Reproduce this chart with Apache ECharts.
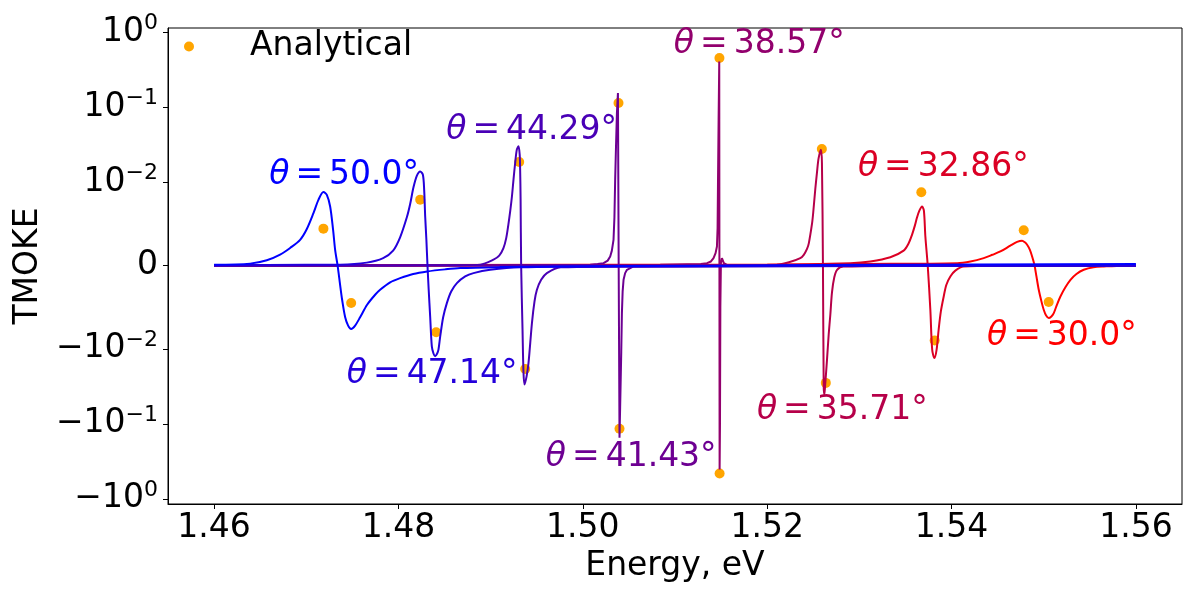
<!DOCTYPE html>
<html><head><meta charset="utf-8">
<script src="https://cdn.jsdelivr.net/npm/echarts@6/dist/echarts.min.js"></script>
<style>html,body{margin:0;padding:0;background:#fff}#c{width:1200px;height:600px}</style>
</head><body><div id="c"></div>
<script>
// ---- data ----
const xTicks = [1.46, 1.48, 1.50, 1.52, 1.54, 1.56];
const yTicks = [1, 0.1, 0.01, 0, -0.01, -0.1, -1];
const yTickBase = ['10', '10', '10', '0', '\u221210', '\u221210', '\u221210'];
const yTickExp = ['0', '\u22121', '\u22122', '', '\u22122', '\u22121', '0'];

const thetaLabels = ['50.0', '47.14', '44.29', '41.43', '38.57', '35.71', '32.86', '30.0'];
const lineColors = ['#0000ff', '#2400db', '#4900b6', '#6d0092', '#92006d', '#b60049', '#db0024', '#ff0000'];
const lineSmooth = [0.3, 0.3, 0.3, 0, 0, 0.3, 0.3, 0.3];

const curve50 = [[1.4600,0.0001],[1.46391,0.00024],[1.46572,0.00064],[1.46716,0.00132],[1.46825,0.00212],[1.46933,0.0031],[1.47006,0.0044],[1.47078,0.0063],[1.47132,0.0079],[1.47186,0.00885],[1.47223,0.0085],[1.47259,0.0071],[1.47291,0.0043],[1.47313,0.0019],[1.47340,0.0],[1.47367,-0.0023],[1.47389,-0.0041],[1.47422,-0.0062],[1.47454,-0.0072],[1.47487,-0.0076],[1.47530,-0.0072],[1.47584,-0.0062],[1.47660,-0.0047],[1.47747,-0.0035],[1.47801,-0.0029],[1.47910,-0.0020],[1.48018,-0.0015],[1.48160,-0.0010],[1.48311,-0.0007],[1.48507,-0.00045],[1.48670,-0.0003],[1.49104,-0.00018],[1.49646,-0.0001],[1.5127,0.0],[1.5300,0.0001],[1.5600,0.0002]];
const curve47 = [[1.4600,0.00005],[1.4700,0.0001],[1.47367,0.00012],[1.47657,0.00036],[1.47834,0.0009],[1.47942,0.0018],[1.48018,0.0034],[1.48091,0.0058],[1.48127,0.0074],[1.48163,0.0094],[1.48200,0.0123],[1.48236,0.0140],[1.48265,0.0126],[1.48279,0.0091],[1.48290,0.0059],[1.48303,0.0031],[1.48315,0.0],[1.48328,-0.0029],[1.48344,-0.0061],[1.48362,-0.0097],[1.48380,-0.0115],[1.48398,-0.0125],[1.48420,-0.0115],[1.48434,-0.0102],[1.48453,-0.0085],[1.48485,-0.0062],[1.48525,-0.0045],[1.48572,-0.0031],[1.48634,-0.0021],[1.48724,-0.0013],[1.48814,-0.0009],[1.48995,-0.0005],[1.49321,-0.0002],[1.5050,-0.0001],[1.5600,0.0]];
const curve44 = [[1.4600,0.0],[1.4800,0.00003],[1.48670,0.00005],[1.48887,0.00012],[1.49031,0.00072],[1.49093,0.0012],[1.49139,0.0021],[1.49169,0.0033],[1.49192,0.0049],[1.49213,0.0066],[1.49231,0.0083],[1.49248,0.0109],[1.49266,0.0181],[1.49284,0.0273],[1.49302,0.0302],[1.49315,0.0237],[1.49320,0.0150],[1.49325,0.0080],[1.49331,0.0],[1.49346,-0.0077],[1.49356,-0.0200],[1.49367,-0.0299],[1.49390,-0.0232],[1.49411,-0.0154],[1.49448,-0.0069],[1.49476,-0.0043],[1.49502,-0.0029],[1.49548,-0.0017],[1.49610,-0.0009],[1.4976,-0.0002],[1.5100,-0.0001],[1.5600,0.0]];
const curve41 = [[1.4600,0.0],[1.4900,0.00005],[1.5008,0.00012],[1.50160,0.0002],[1.50225,0.0003],[1.50270,0.0006],[1.50297,0.0011],[1.50315,0.0018],[1.50333,0.0031],[1.50343,0.0058],[1.50351,0.0109],[1.50360,0.0302],[1.50370,0.0841],[1.50381,0.1555],[1.50389,0.0],[1.50398,-0.1535],[1.50405,-0.0600],[1.50411,-0.0257],[1.50417,-0.0110],[1.50424,-0.0057],[1.50432,-0.0031],[1.50442,-0.0017],[1.50459,-0.0009],[1.50479,-0.0005],[1.50550,-0.0001],[1.5200,0.0],[1.5600,0.0]];
const curve38 = [[1.4600,0.0],[1.5000,0.00005],[1.5084,0.00012],[1.51280,0.0002],[1.51347,0.0003],[1.51390,0.0005],[1.51418,0.0009],[1.51440,0.0015],[1.51455,0.0023],[1.51462,0.0045],[1.51466,0.0095],[1.51473,0.0686],[1.51480,0.410],[1.51482,0.0],[1.51484,-0.406],[1.51488,-0.1],[1.51492,-0.005],[1.51498,0.0003],[1.51509,0.0009],[1.51530,0.0003],[1.51563,0.0001],[1.5300,0.0],[1.5600,0.0]];
const curve35 = [[1.4600,0.0],[1.5000,0.00005],[1.52106,0.00012],[1.52236,0.0004],[1.52359,0.0009],[1.52397,0.0013],[1.52432,0.0020],[1.52452,0.0027],[1.52486,0.0050],[1.52498,0.0062],[1.52522,0.0092],[1.52540,0.0135],[1.52558,0.0210],[1.52584,0.0273],[1.52594,0.0181],[1.52605,0.0],[1.52613,-0.0315],[1.52620,-0.0406],[1.52628,-0.0315],[1.52649,-0.0139],[1.52667,-0.0083],[1.52685,-0.0059],[1.52703,-0.0032],[1.52728,-0.0014],[1.52758,-0.0005],[1.52826,-0.0001],[1.5400,0.0],[1.5600,0.0]];
const curve32 = [[1.4600,0.0],[1.5000,0.00005],[1.5200,0.0001],[1.52902,0.0003],[1.53119,0.0005],[1.53336,0.0010],[1.53480,0.0018],[1.53531,0.0026],[1.53571,0.0037],[1.53602,0.0048],[1.53626,0.0058],[1.53651,0.0066],[1.53680,0.0071],[1.53700,0.0066],[1.53716,0.0035],[1.53741,0.0001],[1.53770,-0.0053],[1.53790,-0.0102],[1.53814,-0.0132],[1.53838,-0.0102],[1.53860,-0.0077],[1.53884,-0.0055],[1.53915,-0.0037],[1.53944,-0.0023],[1.53987,-0.0013],[1.54041,-0.0006],[1.54131,-0.0001],[1.5450,0.0],[1.5600,0.0]];
const curve30 = [[1.4600,0.0],[1.5000,0.0001],[1.5200,0.0001],[1.5300,0.0002],[1.54060,0.0003],[1.54205,0.0005],[1.54349,0.0009],[1.54443,0.0013],[1.54530,0.0017],[1.54638,0.0024],[1.54711,0.00285],[1.54765,0.0030],[1.54796,0.0028],[1.54820,0.0025],[1.54850,0.0019],[1.54874,0.0011],[1.54899,0.0001],[1.54921,-0.0013],[1.54946,-0.0029],[1.54973,-0.0042],[1.55000,-0.0053],[1.55026,-0.0060],[1.55054,-0.0063],[1.55083,-0.0061],[1.55109,-0.0057],[1.55143,-0.0047],[1.55181,-0.0037],[1.55235,-0.0026],[1.55290,-0.0017],[1.55355,-0.0010],[1.55434,-0.0005],[1.55539,-0.0002],[1.55651,-0.0001],[1.55865,0.0],[1.5600,0.0]];
const curves = [curve50, curve47, curve44, curve41, curve38, curve35, curve32, curve30];

const analyticalE = [1.47186,1.47487,1.48236,1.48409,1.49310,1.49375,1.50387,1.50398,1.51482,1.51484,1.52593,1.52636,1.53672,1.53817,1.54783,1.55054];
const analyticalV = [0.00444,-0.00448,0.00792,-0.0080,0.0187,-0.0185,0.1143,-0.1164,0.455,-0.459,0.0279,-0.0284,0.0088,-0.0090,0.00424,-0.00436];

// label anchors (centre of each annotation, data coords)
const labelE = [1.47411, 1.48366, 1.49445, 1.50525, 1.51914, 1.52815, 1.53911, 1.55197];
const labelV = [0.01227, -0.02198, 0.0489, -0.281, 0.685, -0.0664, 0.0157, -0.00852];

// ---- symlog scale (linthresh 0.01, linscale 1, base 10) ----
const LT = 0.01, LS = 1 / (1 - 1 / 10);
function symlog(v) {
  const a = Math.abs(v);
  if (a <= LT) return v / LT * LS;
  return Math.sign(v) * (LS + Math.log10(a / LT));
}

const FF = 'DejaVu Sans';
const yTickPos = yTicks.map(symlog);

const series = [];
series.push({
  name: 'Analytical', type: 'scatter',
  data: analyticalE.map((e, i) => [e, symlog(analyticalV[i])]),
  symbolSize: 10, itemStyle: { color: '#FFA500', opacity: 1 }, z: 2, silent: true
});
for (let k = curves.length - 1; k >= 0; k--) {
  series.push({
    type: 'line', data: curves[k].map(p => [p[0], symlog(p[1])]),
    showSymbol: false, symbol: 'none', smooth: lineSmooth[k],
    lineStyle: { width: 2, color: lineColors[k] }, itemStyle: { color: lineColors[k] },
    z: 3, silent: true
  });
}
series.push({
  type: 'scatter', z: 5, silent: true, symbolSize: 1,
  itemStyle: { color: 'rgba(0,0,0,0)', opacity: 1 },
  label: {
    show: true, position: 'inside', fontFamily: FF, fontSize: 33, opacity: 1,
    rich: {
      i: { fontStyle: 'italic', fontFamily: FF, fontSize: 33 },
      e: { fontFamily: FF, fontSize: 33, padding: [0, 6, 0, 6] },
      n: { fontFamily: FF, fontSize: 33 }
    }
  },
  data: labelE.map((e, i) => ({
    value: [e, symlog(labelV[i])],
    label: { color: lineColors[i], formatter: '{i|\u03b8}{e|=}{n|' + thetaLabels[i] + '\u00b0}' }
  }))
});

const chart = echarts.init(document.getElementById('c'), null, { renderer: 'canvas' });
chart.setOption({
  animation: false,
  backgroundColor: '#fff',
  grid: { left: 168, right: 18, top: 28, bottom: 96, show: true, borderColor: '#000', borderWidth: 1, backgroundColor: 'transparent' },
  legend: {
    data: ['Analytical'], left: 184, top: 30, padding: 0, itemWidth: 10, itemHeight: 10,
    icon: 'circle', selectedMode: false,
    textStyle: { fontSize: 33, fontFamily: FF, color: '#000', padding: [0, 0, 0, 51] }
  },
  xAxis: {
    type: 'value', min: 1.455, max: 1.565,
    axisLine: { show: true, onZero: false, lineStyle: { color: '#000', width: 1 } },
    axisTick: { show: true, customValues: xTicks, length: 5, lineStyle: { color: '#000', width: 1 } },
    axisLabel: { customValues: xTicks, formatter: v => v.toFixed(2), fontSize: 33, fontFamily: FF, color: '#000', margin: 8 },
    splitLine: { show: false },
    name: 'Energy, eV', nameLocation: 'middle', nameGap: 45,
    nameTextStyle: { fontSize: 33, fontFamily: FF, color: '#000' }
  },
  yAxis: {
    type: 'value', min: -3.18, max: 3.17,
    axisLine: { show: true, onZero: false, lineStyle: { color: '#000', width: 1 } },
    axisTick: { show: true, customValues: yTickPos, length: 5, lineStyle: { color: '#000', width: 1 } },
    axisLabel: {
      customValues: yTickPos, margin: 10, color: '#000',
      formatter: function (v) {
        let idx = 0, best = Infinity;
        yTickPos.forEach((p, i) => { const d = Math.abs(p - v); if (d < best) { best = d; idx = i; } });
        return '{b|' + yTickBase[idx] + '}' + (yTickExp[idx] ? '{s|' + yTickExp[idx] + '}' : '');
      },
      rich: {
        b: { fontSize: 33, fontFamily: FF, color: '#000', lineHeight: 40, verticalAlign: 'middle' },
        s: { fontSize: 22, fontFamily: FF, color: '#000', lineHeight: 24, verticalAlign: 'top' }
      }
    },
    splitLine: { show: false },
    name: 'TMOKE', nameLocation: 'middle', nameGap: 122, nameRotate: 90,
    nameTextStyle: { fontSize: 33, fontFamily: FF, color: '#000' }
  },
  series: series
});
</script></body></html>
